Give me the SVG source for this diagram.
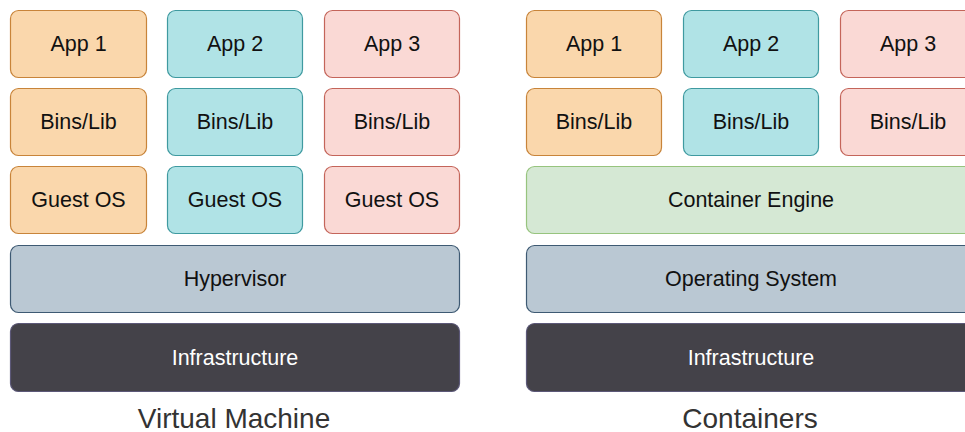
<svg xmlns="http://www.w3.org/2000/svg" width="965" height="432" viewBox="0 0 965 432">
<style>
.b{stroke-width:1.2}
.or{fill:#fad7ac;stroke:#c8843a}
.te{fill:#b0e3e6;stroke:#3f9aa0}
.rd{fill:#fad9d5;stroke:#c4655a}
.gr{fill:#d5e8d4;stroke:#97c47e}
.bg{fill:#bac8d3;stroke:#3e5a73}
.dk{fill:#444249;stroke:#5c5878}
text{font-family:"Liberation Sans",Arial,Helvetica,sans-serif;font-size:21.5px;text-anchor:middle;dominant-baseline:central;fill:#111}
.w{fill:#fff}
.cap{font-size:28px;fill:#333}
</style>
<rect width="965" height="432" fill="#fff"/>
<g id="vm">
<g id="vm-app1"><rect class="b or" x="10.5" y="10.5" width="136" height="67" rx="8"/><text x="78.5" y="44">App 1</text></g>
<g id="vm-app2"><rect class="b te" x="167.5" y="10.5" width="135" height="67" rx="8"/><text x="235" y="44">App 2</text></g>
<g id="vm-app3"><rect class="b rd" x="324.5" y="10.5" width="135" height="67" rx="8"/><text x="392" y="44">App 3</text></g>
<g id="vm-bins1"><rect class="b or" x="10.5" y="88.5" width="136" height="67" rx="8"/><text x="78.5" y="122">Bins/Lib</text></g>
<g id="vm-bins2"><rect class="b te" x="167.5" y="88.5" width="135" height="67" rx="8"/><text x="235" y="122">Bins/Lib</text></g>
<g id="vm-bins3"><rect class="b rd" x="324.5" y="88.5" width="135" height="67" rx="8"/><text x="392" y="122">Bins/Lib</text></g>
<g id="vm-os1"><rect class="b or" x="10.5" y="166.5" width="136" height="67" rx="8"/><text x="78.5" y="200">Guest OS</text></g>
<g id="vm-os2"><rect class="b te" x="167.5" y="166.5" width="135" height="67" rx="8"/><text x="235" y="200">Guest OS</text></g>
<g id="vm-os3"><rect class="b rd" x="324.5" y="166.5" width="135" height="67" rx="8"/><text x="392" y="200">Guest OS</text></g>
<g id="vm-hyp"><rect class="b bg" x="10.5" y="245.5" width="449" height="67" rx="8"/><text x="235" y="279">Hypervisor</text></g>
<g id="vm-infra"><rect class="b dk" x="10.5" y="323.5" width="449" height="68" rx="8"/><text class="w" x="235" y="357.5">Infrastructure</text></g>
<text id="vm-label" class="cap" x="234" y="418">Virtual Machine</text>
</g>
<g id="ct">
<g id="ct-app1"><rect class="b or" x="526.5" y="10.5" width="135" height="67" rx="8"/><text x="594" y="44">App 1</text></g>
<g id="ct-app2"><rect class="b te" x="683.5" y="10.5" width="135" height="67" rx="8"/><text x="751" y="44">App 2</text></g>
<g id="ct-app3"><rect class="b rd" x="840.5" y="10.5" width="135" height="67" rx="8"/><text x="908" y="44">App 3</text></g>
<g id="ct-bins1"><rect class="b or" x="526.5" y="88.5" width="135" height="67" rx="8"/><text x="594" y="122">Bins/Lib</text></g>
<g id="ct-bins2"><rect class="b te" x="683.5" y="88.5" width="135" height="67" rx="8"/><text x="751" y="122">Bins/Lib</text></g>
<g id="ct-bins3"><rect class="b rd" x="840.5" y="88.5" width="135" height="67" rx="8"/><text x="908" y="122">Bins/Lib</text></g>
<g id="ct-engine"><rect class="b gr" x="526.5" y="166.5" width="449" height="67" rx="8"/><text x="751" y="200">Container Engine</text></g>
<g id="ct-os"><rect class="b bg" x="526.5" y="245.5" width="449" height="67" rx="8"/><text x="751" y="279">Operating System</text></g>
<g id="ct-infra"><rect class="b dk" x="526.5" y="323.5" width="449" height="68" rx="8"/><text class="w" x="751" y="357.5">Infrastructure</text></g>
<text id="ct-label" class="cap" x="750" y="418">Containers</text>
</g>
<g id="connectors"></g>
</svg>
